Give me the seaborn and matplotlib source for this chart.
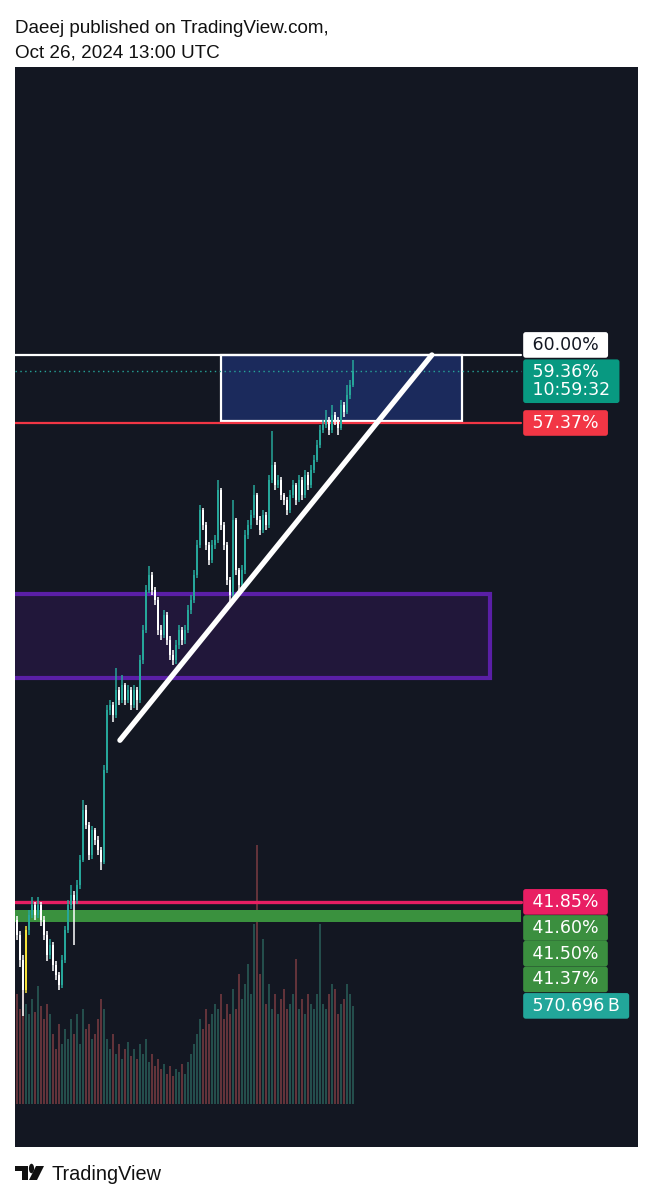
import matplotlib
matplotlib.use("Agg")
import matplotlib.pyplot as plt
from matplotlib.patches import Rectangle, Polygon, Circle
from matplotlib.ticker import NullLocator
import numpy as np
import pandas as pd
import seaborn as sns

# ---- data (prices in %, volume in B) ----
first_open = 41.34
closes = [40.94, 40.27, 39.48, 41.07, 41.48, 41.75, 41.48, 41.75, 41.34, 40.94,
          40.40, 40.67, 40.14, 39.87, 39.61, 40.27, 41.07, 41.75, 42.03, 41.89,
          42.31, 43.01, 44.46, 44.02, 43.15, 43.87, 43.58, 43.30, 42.95, 45.64,
          47.48, 47.64, 47.32, 48.11, 47.79, 48.27, 47.79, 48.11, 47.64, 48.11,
          47.79, 49.07, 50.05, 51.39, 51.90, 51.39, 51.05, 50.05, 49.89, 50.55,
          49.72, 49.23, 49.07, 49.56, 50.05, 49.72, 50.05, 50.72, 51.05, 51.90,
          52.94, 54.17, 53.64, 52.94, 52.42, 52.94, 53.11, 54.89, 53.64, 52.94,
          51.73, 51.22, 53.82, 52.07, 51.56, 52.07, 53.29, 53.64, 53.99, 54.71,
          53.82, 53.46, 53.99, 53.64, 55.25, 55.81, 55.07, 55.25, 54.71, 54.53,
          54.17, 54.71, 55.07, 54.53, 55.25, 54.71, 55.44, 55.07, 55.62, 55.99,
          56.55, 57.11, 57.30, 57.48, 57.11, 57.67, 57.48, 57.18, 58.06, 57.79,
          58.44, 58.83, 59.36]
highs = [41.45, 41.05, 40.40, 41.20, 41.62, 41.98, 41.85, 41.98, 41.85, 41.45,
         41.05, 40.85, 40.75, 40.25, 39.95, 40.40, 41.20, 41.90, 42.31, 42.15,
         42.45, 43.15, 44.75, 44.60, 44.10, 44.00, 43.95, 43.70, 43.40, 45.80,
         47.64, 47.79, 47.75, 48.81, 48.20, 48.59, 48.35, 48.27, 48.20, 48.27,
         48.20, 49.23, 50.22, 51.56, 52.20, 52.00, 51.50, 51.15, 50.22, 50.72,
         50.65, 49.85, 49.40, 49.72, 50.22, 50.15, 50.22, 50.88, 51.22, 52.07,
         53.11, 54.35, 54.25, 53.75, 53.05, 53.11, 53.29, 55.25, 54.95, 53.75,
         53.05, 51.85, 54.53, 53.90, 52.15, 52.24, 53.46, 53.82, 54.17, 55.07,
         54.80, 53.95, 54.17, 54.10, 55.44, 57.05, 55.90, 55.44, 55.35, 54.80,
         54.65, 54.89, 55.25, 55.15, 55.44, 55.35, 55.62, 55.55, 55.81, 56.18,
         56.73, 57.30, 57.48, 57.86, 57.60, 58.06, 57.79, 57.60, 58.25, 58.15,
         58.83, 59.02, 59.80]
lows = [40.80, 40.10, 38.83, 39.40, 40.95, 41.40, 41.35, 41.40, 41.20, 40.80,
        40.25, 40.30, 40.00, 39.75, 39.48, 39.55, 40.20, 41.00, 41.65, 40.67,
        41.80, 42.20, 42.95, 43.90, 43.01, 43.05, 43.45, 43.15, 42.73, 42.90,
        45.55, 47.32, 47.10, 47.25, 47.64, 47.70, 47.64, 47.70, 47.48, 47.55,
        47.48, 47.70, 48.95, 49.95, 51.30, 51.22, 50.88, 49.89, 49.72, 49.80,
        49.56, 49.07, 48.91, 48.95, 49.45, 49.56, 49.60, 49.95, 50.60, 50.95,
        51.80, 52.85, 53.46, 52.76, 52.24, 52.30, 52.80, 53.00, 53.46, 52.76,
        51.56, 51.00, 51.10, 51.90, 51.39, 51.45, 51.95, 53.15, 53.50, 53.90,
        53.64, 53.29, 53.35, 53.46, 53.55, 55.15, 54.89, 54.95, 54.53, 54.35,
        53.99, 54.05, 54.60, 54.35, 54.45, 54.53, 54.60, 54.89, 54.95, 55.50,
        55.90, 56.45, 57.00, 57.18, 56.92, 57.00, 57.30, 56.92, 57.10, 57.60,
        57.70, 58.30, 58.75]
volumes = [640, 553, 698, 582, 524, 611, 535, 687, 570, 495, 582, 524,
           407, 320, 466, 349, 437, 378,
           495, 407, 524, 349, 553, 437, 466, 378, 407, 495,
           611, 553,
           378, 320, 407, 291, 349, 262, 320, 361, 279,
           320, 262, 349, 291, 378, 244, 291, 221, 262, 204, 233, 175, 221, 163,
           204, 186, 233, 175, 244,
           291, 349, 407, 495, 437, 553, 466, 524, 582,
           553, 640, 495, 582, 524, 669, 553, 757, 611, 698, 815, 640, 1048,
           1507, 757, 960,
           582, 698, 553, 640, 524, 611, 669, 553, 582, 640, 844, 553, 611, 524,
           640, 582, 553, 640, 1048, 582, 553, 640, 698, 669, 524, 582, 611, 698,
           640, 571]
highlight_bar = 3  # the yellow candle

# drawings
trend_x = [34.3, 138.3]
trend_y = [46.55, 60.00]
blue_box_x = [68.0, 148.3]
blue_box_y = [57.43, 60.00]
purple_box_x = [-3.0, 157.7]
purple_box_y = [48.49, 51.25]
green_zone = [41.30, 41.62]

# price-scale tags: text, price, box colour, text colour, shift in px
tags = [
    (" 60.00% ", 60.00, "#ffffff", "#131722", 10),
    (" 59.36%\n 10:59:32 ", 59.36, "#089981", "#ffffff", -10),
    (" 57.37% ", 57.37, "#f23645", "#ffffff", 0),
    (" 41.85% ", 41.85, "#e91e63", "#ffffff", 0),
    (" 41.60% ", 41.60, "#3b8f3f", "#ffffff", -17),
    (" 41.50% ", 41.50, "#3b8f3f", "#ffffff", -39),
    (" 41.37% ", 41.37, "#3b8f3f", "#ffffff", -60),
]
volume_tag = " 570.696\u2009B "

BG = "#131722"
UP = "#26a69a"
DOWN = "#ffffff"

sns.set_theme(style="dark")
plt.rcParams["font.family"] = ["DejaVu Sans"]

W, H = 654, 1200
fig = plt.figure(figsize=(W / 100, H / 100), dpi=100, facecolor="white")


def fx(px):
    return px / W


def fy(py):
    return 1 - py / H


# chart pane background
fig.add_artist(Rectangle((fx(15), fy(1147)), fx(638) - fx(15), fy(67) - fy(1147),
                         transform=fig.transFigure, fc=BG, ec="none", zorder=0))

x0 = -2 / 3
x1 = x0 + 623 / 3
idx = np.arange(len(closes))
closes = np.array(closes)
opens = np.r_[first_open, closes[:-1]]
up = closes >= opens

# volume pane
vax = fig.add_axes([fx(15), fy(1104), fx(638) - fx(15), fy(840) - fy(1104)], zorder=1)
vax.patch.set_alpha(0)
vol_df = pd.DataFrame({"i": idx, "vol": volumes, "dir": np.where(up, "up", "down")})
sns.barplot(data=vol_df, x="i", y="vol", hue="dir", native_scale=True, dodge=False,
            palette={"up": "#1d5552", "down": "#6a2b35"}, width=0.62, linewidth=0,
            errorbar=None, legend=False, ax=vax)
vax.set_xlim(x0, x1)
vax.set_ylim(0, 264 * 5.82)
vax.set_axis_off()

# price pane
ax = fig.add_axes([fx(15), fy(1147), fx(638) - fx(15), fy(67) - fy(1147)], zorder=2)
ax.patch.set_alpha(0)
ax.set_yscale("log")
ax.set_xlim(x0, x1)
ax.set_ylim(35.61, 72.53)
ax.set_xticks([])
ax.yaxis.set_major_locator(NullLocator())
ax.yaxis.set_minor_locator(NullLocator())
for s in ax.spines.values():
    s.set_visible(False)

xm = (521 - 15) / 623

ax.add_patch(Rectangle((purple_box_x[0], purple_box_y[0]),
                       purple_box_x[1] - purple_box_x[0], purple_box_y[1] - purple_box_y[0],
                       fc="#21173a", ec="#5a1fa6", lw=3, zorder=1))
ax.add_patch(Rectangle((blue_box_x[0], blue_box_y[0]),
                       blue_box_x[1] - blue_box_x[0], blue_box_y[1] - blue_box_y[0],
                       fc="#1b2a5c", ec="white", lw=1.6, zorder=1))

ax.axhline(60.00, xmax=xm, color="white", lw=1.6, zorder=2)
ax.axhline(59.36, xmax=xm, color=UP, lw=1, ls=(0, (1, 2.5)), zorder=2)
ax.axhline(57.37, xmax=xm, color="#f23645", lw=1.6, zorder=2)
ax.axhline(41.85, xmax=xm, color="#e91e63", lw=2.4, zorder=2)
ax.axhspan(green_zone[0], green_zone[1], xmax=xm, color="#3a913e", lw=0, zorder=2)

colors = np.where(up, UP, DOWN).astype(object)
colors[highlight_bar] = "#f5e23a"
ax.vlines(idx, lows, highs, colors=list(colors), lw=1.1, zorder=3)
body = np.maximum(np.abs(closes - opens), 0.04)
ax.bar(idx, body, bottom=np.minimum(opens, closes), width=0.7, color=list(colors),
       lw=0, zorder=3)

tl = pd.DataFrame({"x": trend_x, "y": trend_y})
sns.lineplot(data=tl, x="x", y="y", color="white", lw=3.8, ax=ax, zorder=4,
             solid_capstyle="round")
ax.set_xlabel("")
ax.set_ylabel("")

tx = (527 - 15) / 623
for text, price, fc, tc, dy in tags:
    ax.annotate(text, xy=(tx, price), xycoords=("axes fraction", "data"),
                xytext=(0, dy), textcoords="offset pixels", ha="left", va="center",
                fontsize=12.5, color=tc, linespacing=1.0, zorder=6,
                bbox=dict(boxstyle="round,pad=0.22,rounding_size=0.15", fc=fc, ec="none"))
ax.annotate(volume_tag, xy=(tx, volumes[-1]), xycoords=(ax.transAxes, vax.transData),
            ha="left", va="center", fontsize=12.5, color="#ffffff", zorder=6,
            bbox=dict(boxstyle="round,pad=0.22,rounding_size=0.15", fc="#22a69a", ec="none"))

# header and footer
hdr = dict(family=["Liberation Sans", "DejaVu Sans"], fontsize=13.6, color="#111111",
           va="baseline", ha="left")
fig.text(fx(15), fy(33), "Daeej published on TradingView.com,", **hdr)
fig.text(fx(15), fy(58), "Oct 26, 2024 13:00 UTC", **hdr)
fig.text(fx(51), fy(1180), "TradingView", family=["Liberation Sans", "DejaVu Sans"],
         fontsize=14.3, color="#111111", va="baseline", ha="left")

logo = "#111111"
fig.add_artist(Polygon([(fx(15), fy(1166)), (fx(28), fy(1166)), (fx(28), fy(1180)),
                        (fx(22), fy(1180)), (fx(22), fy(1171)), (fx(15), fy(1171))],
                       closed=True, transform=fig.transFigure, fc=logo, ec="none"))
fig.add_artist(Circle((fx(31.5), fy(1168.5)), 2.6 / W, transform=fig.transFigure,
                      fc=logo, ec="none"))
fig.add_artist(Polygon([(fx(36), fy(1166)), (fx(44), fy(1166)), (fx(37), fy(1180)),
                        (fx(29), fy(1180))],
                       closed=True, transform=fig.transFigure, fc=logo, ec="none"))

fig.savefig("out.png", dpi=100, facecolor="white")
